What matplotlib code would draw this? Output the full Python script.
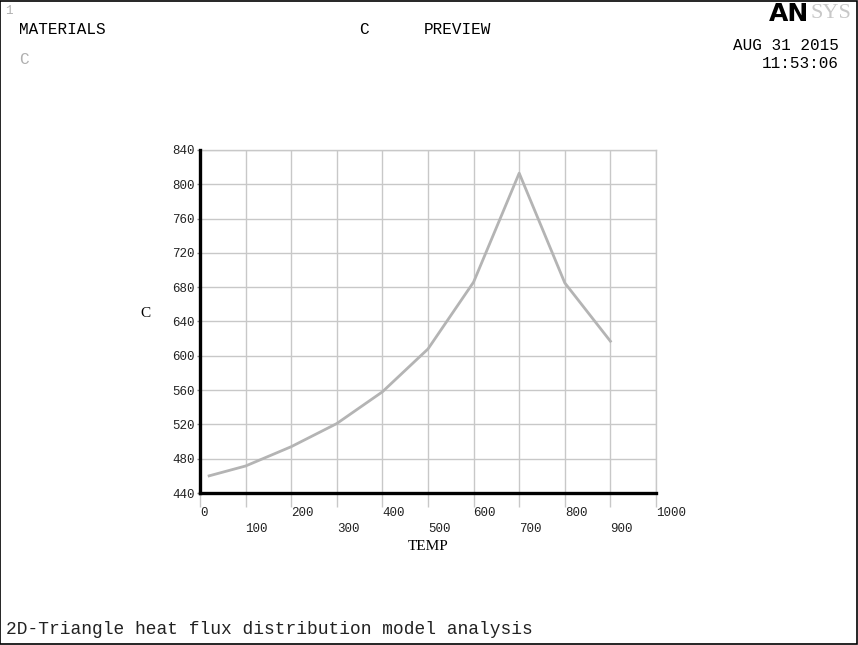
import matplotlib
matplotlib.use("Agg")
import matplotlib.pyplot as plt
from matplotlib.patches import Rectangle

# material curve
temp = [20, 100, 200, 300, 400, 500, 600, 700, 800, 900]
c_val = [460, 471.5, 494, 521, 558, 608, 686, 813, 685, 617]

x_ticks = [0, 100, 200, 300, 400, 500, 600, 700, 800, 900, 1000]
y_ticks = [440, 480, 520, 560, 600, 640, 680, 720, 760, 800, 840]

MONO = ['Liberation Mono', 'DejaVu Sans Mono']

fig = plt.figure(figsize=(8.58, 6.45), dpi=100)
W, H = 858, 645

def px(x, y):
    return x / W, 1 - y / H

ax = fig.add_axes([200 / W, 1 - 493 / H, 456 / W, 343 / H])
ax.plot(temp, c_val, color='#b4b4b4', lw=2.0, zorder=3)
ax.set_xlim(0, 1000)
ax.set_ylim(440, 840)
ax.set_xticks(x_ticks)
ax.set_xticklabels([str(t) if i % 2 == 0 else '\n' + str(t) for i, t in enumerate(x_ticks)],
                   ha='left', family=MONO, fontsize=9)
for lab in ax.get_xticklabels():
    lab.set_linespacing(1.45)
ax.set_yticks(y_ticks)
ax.set_yticklabels([str(t) for t in y_ticks], family=MONO, fontsize=9)
ax.grid(True, color='#c8c8c8', lw=1.0, zorder=1)
ax.tick_params(axis='x', length=10, width=1, color='#c8c8c8', pad=0, labelcolor='#222222')
ax.tick_params(axis='y', length=2, width=1, color='#888888', pad=2, labelcolor='#222222')
for side in ('top', 'right'):
    ax.spines[side].set_color('#c8c8c8')
    ax.spines[side].set_linewidth(1.0)
for side in ('left', 'bottom'):
    ax.spines[side].set_color('black')
    ax.spines[side].set_linewidth(2.4)
    ax.spines[side].set_zorder(4)
ax.set_facecolor('white')

# axis titles
fig.text(*px(145, 313), 'C', family='Liberation Serif', fontsize=11, ha='center', va='center')
fig.text(*px(428, 547), 'TEMP', family='Liberation Serif', fontsize=11, ha='center', va='center')

# header
fig.text(*px(5, 11), '1', family=MONO, fontsize=9, color='#b0b0b0', ha='left', va='center')
fig.text(*px(19, 30), 'MATERIALS', family=MONO, fontsize=11.5, ha='left', va='center')
fig.text(*px(359, 30), 'C', family=MONO, fontsize=11.5, ha='left', va='center')
fig.text(*px(424, 30), 'PREVIEW', family=MONO, fontsize=11.5, ha='left', va='center')
fig.text(*px(19, 60), 'C', family=MONO, fontsize=11.5, color='#b0b0b0', ha='left', va='center')
fig.text(*px(839, 45), 'AUG 31 2015', family=MONO, fontsize=11.5, ha='right', va='center')
fig.text(*px(839, 64), '11:53:06', family=MONO, fontsize=11.5, ha='right', va='center')

# logo
fig.text(*px(809, 14), 'AN', family='DejaVu Sans', fontweight='bold', fontsize=18,
         ha='right', va='center', color='black')
fig.text(*px(811, 14), 'SYS', family='Liberation Serif', fontsize=16,
         ha='left', va='center', color='#c8c8c8')

# footer
fig.text(*px(6, 630), '2D-Triangle heat flux distribution model analysis', family=MONO,
         fontsize=12.9, ha='left', va='center', color='#222222')

# frame around the graphics window
fig.patches.append(Rectangle((0.0005, 0.001), 0.998, 0.998, transform=fig.transFigure,
                             fill=False, edgecolor='black', lw=1.2))

fig.savefig('out.png', dpi=100)
